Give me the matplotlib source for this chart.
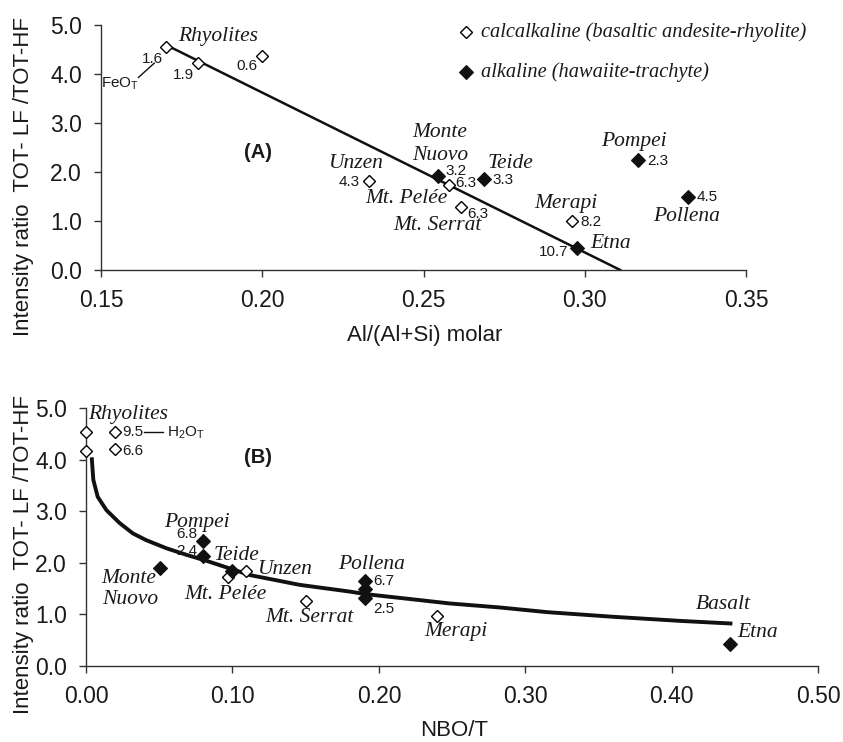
import matplotlib
matplotlib.use("Agg")
import matplotlib.pyplot as plt

# ---------------- data ----------------
# Panel A: Al/(Al+Si) molar vs intensity ratio
a_calc_x = [0.170, 0.180, 0.200, 0.233, 0.258, 0.2615, 0.296]
a_calc_y = [4.55, 4.22, 4.37, 1.82, 1.73, 1.28, 0.99]
a_alk_x = [0.2544, 0.2687, 0.2977, 0.3166, 0.3319]
a_alk_y = [1.92, 1.86, 0.44, 2.24, 1.48]
a_fit_x = [0.1715, 0.311]
a_fit_y = [4.55, 0.0]

# Panel B: NBO/T vs intensity ratio
b_calc_x = [0.0, 0.0, 0.0198, 0.0198, 0.0967, 0.109, 0.150, 0.2394]
b_calc_y = [4.53, 4.17, 4.53, 4.21, 1.72, 1.84, 1.26, 0.97]
b_alk_x = [0.0505, 0.0801, 0.0801, 0.100, 0.1904, 0.1904, 0.1904, 0.440]
b_alk_y = [1.90, 2.43, 2.14, 1.84, 1.65, 1.49, 1.31, 0.42]
b_curve_x = [0.004, 0.005, 0.008, 0.014, 0.023, 0.032, 0.041, 0.055, 0.069,
             0.082, 0.098, 0.112, 0.146, 0.180, 0.191, 0.226, 0.248, 0.283,
             0.315, 0.360, 0.406, 0.440]
b_curve_y = [4.01, 3.61, 3.28, 3.02, 2.77, 2.57, 2.44, 2.28, 2.15, 2.04,
             1.89, 1.76, 1.57, 1.44, 1.39, 1.28, 1.21, 1.13, 1.04, 0.95,
             0.87, 0.82]

a_xticks = [0.15, 0.20, 0.25, 0.30, 0.35]
b_xticks = [0.0, 0.1, 0.2, 0.3, 0.4, 0.5]
yticks = [0, 1, 2, 3, 4, 5]

# ---------------- style ----------------
W, H = 843, 742
fig = plt.figure(figsize=(W / 100, H / 100), dpi=100)
SANS = "Liberation Sans"
SERIF = "Liberation Serif"
TXT = "#1a1a1a"
LAB = 15.5
LEG = 14.7
NUM = 11
TICK = 16.5
AXL = 16


def ax_rect(l, r, t, b):
    return [l / W, 1 - b / H, (r - l) / W, (b - t) / H]


def style(ax, xlim, xticks):
    ax.set_xlim(*xlim)
    ax.set_ylim(0, 5)
    ax.set_xticks(xticks)
    ax.set_yticks(yticks)
    for s in ["top", "right"]:
        ax.spines[s].set_visible(False)
    for s in ["left", "bottom"]:
        ax.spines[s].set_color("#333333")
        ax.spines[s].set_linewidth(1.0)
    ax.tick_params(direction="out", length=5.3, width=1.0, color="#333333",
                   labelsize=TICK, labelcolor=TXT, pad=8.5)
    for lbl in ax.get_xticklabels() + ax.get_yticklabels():
        lbl.set_fontfamily(SANS)


def it(ax, x, y, s, ha="center", va="center"):
    ax.text(x, y, s, fontsize=LAB, fontstyle="italic", family=SERIF,
            color=TXT, ha=ha, va=va)


def num(ax, x, y, s, ha="center", va="center"):
    ax.text(x, y, s, fontsize=NUM, family=SANS, color=TXT, ha=ha, va=va)


open_kw = dict(marker="D", ms=5.8, mfc="white", mec="black", mew=1.0,
               ls="none", zorder=4)
fill_kw = dict(marker="D", ms=7.2, mfc="#111111", mec="#111111", mew=0.8,
               ls="none", zorder=4)

# ---------------- Panel A ----------------
axA = fig.add_axes(ax_rect(101, 746, 25, 270))
style(axA, (0.15, 0.35), a_xticks)
axA.set_xticklabels(["0.15", "0.20", "0.25", "0.30", "0.35"])
axA.set_yticklabels([f"{v:.1f}" for v in yticks])
axA.plot(a_fit_x, a_fit_y, color="#111111", lw=1.8, zorder=2)
axA.plot(a_calc_x, a_calc_y, **open_kw)
axA.plot(a_alk_x, a_alk_y, **fill_kw)

it(axA, 0.1739, 4.76, "Rhyolites", ha="left")
num(axA, 0.1659, 4.30, "1.6")
num(axA, 0.1756, 3.98, "1.9")
num(axA, 0.1952, 4.16, "0.6")
axA.plot([0.1616, 0.1665], [3.93, 4.22], color="#111111", lw=1.0)
axA.text(0.1559, 3.80, r"FeO$_\mathregular{T}$", fontsize=NUM, family=SANS,
         color=TXT, ha="center", va="center")
axA.text(0.1988, 2.39, "(A)", fontsize=14.5, fontweight="bold", family=SANS,
         color=TXT, ha="center", va="center")
it(axA, 0.2204, 2.18, "Unzen", ha="left")
num(axA, 0.2270, 1.79, "4.3")
it(axA, 0.2447, 1.46, "Mt. Pelée")
it(axA, 0.2465, 2.80, "Monte", ha="left")
it(axA, 0.2465, 2.33, "Nuovo", ha="left")
num(axA, 0.2600, 2.03, "3.2")
num(axA, 0.2632, 1.78, "6.3")
it(axA, 0.2698, 2.18, "Teide", ha="left")
num(axA, 0.2746, 1.84, "3.3")
num(axA, 0.2667, 1.14, "6.3")
it(axA, 0.2542, 0.90, "Mt. Serrat")
it(axA, 0.2943, 1.35, "Merapi")
num(axA, 0.3018, 0.97, "8.2")
it(axA, 0.3016, 0.54, "Etna", ha="left")
num(axA, 0.2905, 0.36, "10.7")
it(axA, 0.3153, 2.62, "Pompei")
num(axA, 0.3227, 2.22, "2.3")
num(axA, 0.3381, 1.48, "4.5")
it(axA, 0.3317, 1.10, "Pollena")

# legend (manual)
axA.plot([0.566], [0.970], transform=axA.transAxes, clip_on=False, **open_kw)
axA.plot([0.566], [0.808], transform=axA.transAxes, clip_on=False, **fill_kw)
axA.text(0.589, 0.970, "calcalkaline (basaltic andesite-rhyolite)",
         transform=axA.transAxes, fontsize=LEG, fontstyle="italic",
         family=SERIF, color=TXT, ha="left", va="center")
axA.text(0.589, 0.808, "alkaline (hawaiite-trachyte)",
         transform=axA.transAxes, fontsize=LEG, fontstyle="italic",
         family=SERIF, color=TXT, ha="left", va="center")

fig.text(425 / W, 1 - 335 / H, "Al/(Al+Si) molar", fontsize=AXL, family=SANS,
         color=TXT, ha="center", va="center")
fig.text(24 / W, 1 - 176 / H, "Intensity ratio  TOT- LF /TOT-HF",
         fontsize=AXL, family=SANS, color=TXT, ha="center", va="center",
         rotation=90)

# ---------------- Panel B ----------------
axB = fig.add_axes(ax_rect(86, 818.3, 408.3, 665.7))
style(axB, (0.0, 0.5), b_xticks)
axB.set_xticklabels([f"{v:.2f}" for v in b_xticks])
axB.set_yticklabels([f"{v:.1f}" for v in yticks])
axB.plot(b_curve_x, b_curve_y, color="#111111", lw=2.8, zorder=2)
axB.plot(b_calc_x, b_calc_y, clip_on=False, **open_kw)
axB.plot(b_alk_x, b_alk_y, clip_on=False, **fill_kw)

it(axB, 0.0016, 4.87, "Rhyolites", ha="left")
num(axB, 0.0323, 4.53, "9.5")
axB.plot([0.0396, 0.0528], [4.53, 4.53], color="#111111", lw=1.0)
axB.text(0.0551, 4.53, r"H$_\mathregular{2}$O$_\mathregular{T}$",
         fontsize=NUM, family=SANS, color=TXT, ha="left", va="center")
num(axB, 0.0323, 4.17, "6.6")
axB.text(0.1176, 4.05, "(B)", fontsize=14.5, fontweight="bold", family=SANS,
         color=TXT, ha="center", va="center")
it(axB, 0.0756, 2.78, "Pompei")
num(axB, 0.0685, 2.55, "6.8")
num(axB, 0.0685, 2.22, "2.4")
it(axB, 0.0869, 2.15, "Teide", ha="left")
it(axB, 0.0107, 1.70, "Monte", ha="left")
it(axB, 0.0107, 1.28, "Nuovo", ha="left")
it(axB, 0.0949, 1.39, "Mt. Pelée")
it(axB, 0.1165, 1.87, "Unzen", ha="left")
it(axB, 0.1529, 0.94, "Mt. Serrat")
it(axB, 0.1950, 1.96, "Pollena")
num(axB, 0.2030, 1.65, "6.7")
num(axB, 0.2030, 1.10, "2.5")
it(axB, 0.2528, 0.66, "Merapi")
it(axB, 0.4350, 1.18, "Basalt")
it(axB, 0.4446, 0.65, "Etna", ha="left")

fig.text(454 / W, 1 - 730 / H, "NBO/T", fontsize=AXL, family=SANS,
         color=TXT, ha="center", va="center")
fig.text(24 / W, 1 - 555 / H, "Intensity ratio  TOT- LF /TOT-HF",
         fontsize=AXL, family=SANS, color=TXT, ha="center", va="center",
         rotation=90)

fig.savefig("out.png", dpi=100)
